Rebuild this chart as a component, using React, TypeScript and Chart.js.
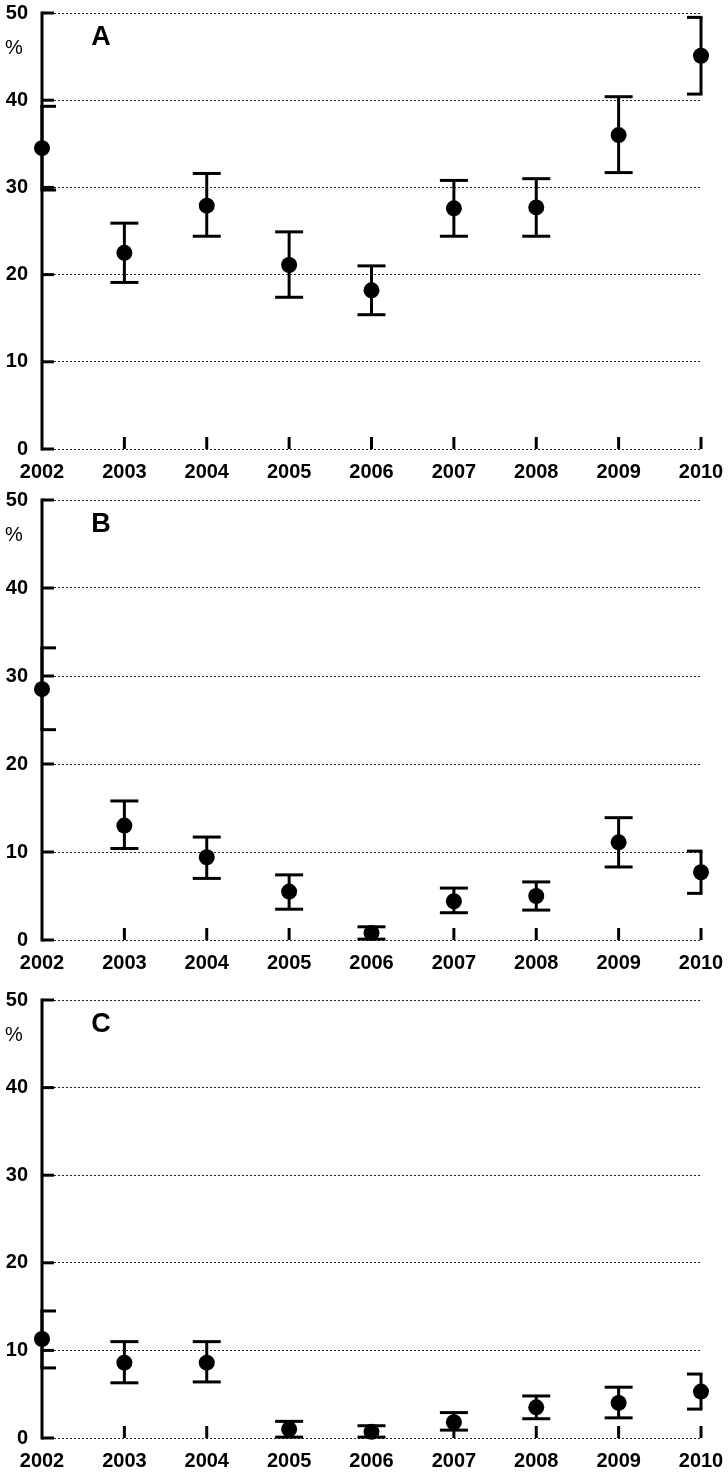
import React, { useEffect, useRef } from "react";
import { Chart, registerables } from "chart.js";

Chart.register(...registerables);

const years = [2002, 2003, 2004, 2005, 2006, 2007, 2008, 2009, 2010];
const yTicks = [0, 10, 20, 30, 40, 50];
const panelLabels = ["A", "B", "C"];
const unitLabel = "%";

const meanA = [34.5, 22.5, 27.9, 21.1, 18.2, 27.6, 27.7, 36.0, 45.1];
const lowA = [29.7, 19.1, 24.4, 17.4, 15.4, 24.4, 24.4, 31.7, 40.7];
const highA = [39.3, 25.9, 31.6, 24.9, 21.0, 30.8, 31.0, 40.4, 49.5];

const meanB = [28.5, 13.0, 9.4, 5.5, 0.8, 4.4, 5.0, 11.1, 7.7];
const lowB = [23.9, 10.4, 7.0, 3.5, 0.1, 3.1, 3.4, 8.3, 5.3];
const highB = [33.2, 15.8, 11.7, 7.4, 1.5, 5.9, 6.6, 13.9, 10.1];

const meanC = [11.3, 8.6, 8.6, 1.0, 0.7, 1.8, 3.5, 4.0, 5.3];
const lowC = [8.0, 6.3, 6.4, 0.1, 0.1, 0.9, 2.2, 2.3, 3.3];
const highC = [14.5, 11.0, 11.0, 1.9, 1.4, 2.9, 4.8, 5.8, 7.3];

const FONT = 'Arial, "Liberation Sans", Helvetica, sans-serif';

type PanelDef = {
  label: string;
  mean: number[];
  low: number[];
  high: number[];
  top: number;
  height: number;
  padTop: number;
  padBottom: number;
};

const panels: PanelDef[] = [
  { label: panelLabels[0], mean: meanA, low: lowA, high: highA, top: 0, height: 487, padTop: 13, padBottom: 8 },
  { label: panelLabels[1], mean: meanB, low: lowB, high: highB, top: 487, height: 487, padTop: 13, padBottom: 4 },
  { label: panelLabels[2], mean: meanC, low: lowC, high: highC, top: 987, height: 485, padTop: 13, padBottom: 4 },
];

function makePlugin(p: PanelDef) {
  return {
    id: "decor" + p.label,
    beforeDatasetsDraw(chart: any) {
      const ctx = chart.ctx as CanvasRenderingContext2D;
      const { left, top, bottom } = chart.chartArea;
      const xs = chart.scales.x;
      const ys = chart.scales.y;
      ctx.save();
      ctx.strokeStyle = "#000";
      ctx.fillStyle = "#000";
      ctx.lineWidth = 3;
      ctx.lineCap = "butt";
      // y axis line
      ctx.beginPath();
      ctx.moveTo(left, top - 1.5);
      ctx.lineTo(left, bottom + 1.5);
      ctx.stroke();
      // inward y ticks
      yTicks.forEach((v) => {
        const y = ys.getPixelForValue(v);
        ctx.beginPath();
        ctx.moveTo(left, y);
        ctx.lineTo(left + 12, y);
        ctx.stroke();
      });
      // upward x ticks
      years.forEach((yr, i) => {
        if (i === 0) return;
        const x = xs.getPixelForValue(yr);
        ctx.beginPath();
        ctx.moveTo(x, bottom);
        ctx.lineTo(x, bottom - 12);
        ctx.stroke();
      });
      // error bars
      const half = 14;
      const last = years.length - 1;
      years.forEach((yr, i) => {
        const x = xs.getPixelForValue(yr);
        const yl = ys.getPixelForValue(p.low[i]);
        const yh = ys.getPixelForValue(p.high[i]);
        ctx.beginPath();
        ctx.moveTo(x, yl);
        ctx.lineTo(x, yh);
        ctx.stroke();
        const x0 = i === 0 ? x - 1.5 : x - half;
        const x1 = i === last ? x + 1.5 : x + half;
        [yl, yh].forEach((yy) => {
          ctx.beginPath();
          ctx.moveTo(x0, yy);
          ctx.lineTo(x1, yy);
          ctx.stroke();
        });
      });
      // % label
      ctx.font = "20px " + FONT;
      ctx.textAlign = "center";
      ctx.textBaseline = "middle";
      ctx.fillText(unitLabel, 14, top + 35);
      // panel letter
      ctx.font = "bold 27px " + FONT;
      ctx.fillText(p.label, left + 59, top + 25);
      ctx.restore();
    },
  };
}

function Panel({ p }: { p: PanelDef }) {
  const ref = useRef<HTMLCanvasElement | null>(null);
  useEffect(() => {
    if (!ref.current) return;
    const chart = new Chart(ref.current, {
      type: "scatter",
      data: {
        datasets: [
          {
            data: years.map((yr, i) => ({ x: yr, y: p.mean[i] })),
            backgroundColor: "#000",
            borderColor: "#000",
            borderWidth: 0,
            pointRadius: 8,
            pointHoverRadius: 8,
            clip: false,
          } as any,
        ],
      },
      options: {
        animation: false,
        responsive: false,
        devicePixelRatio: 1,
        layout: { padding: { top: p.padTop, right: 27, bottom: p.padBottom, left: 0 } },
        plugins: { legend: { display: false }, tooltip: { enabled: false } },
        events: [],
        scales: {
          x: {
            type: "linear",
            min: 2002,
            max: 2010,
            afterBuildTicks: (s: any) => {
              s.ticks = years.map((v) => ({ value: v }));
            },
            afterFit: (s: any) => {
              s.height = 30;
              s.paddingLeft = 0;
              s.paddingRight = 0;
              s.paddingTop = 0;
              s.paddingBottom = 0;
            },
            grid: { display: false, drawTicks: false },
            border: { display: false },
            ticks: {
              autoSkip: false,
              maxRotation: 0,
              padding: 11,
              color: "#000",
              font: { family: FONT, size: 20, weight: "bold" },
              callback: (v: any) => String(v),
            },
          },
          y: {
            type: "linear",
            min: 0,
            max: 50,
            afterBuildTicks: (s: any) => {
              s.ticks = yTicks.map((v) => ({ value: v }));
            },
            afterFit: (s: any) => {
              s.width = 42;
              s.paddingLeft = 0;
              s.paddingRight = 0;
              s.paddingTop = 0;
              s.paddingBottom = 0;
            },
            grid: { display: true, drawTicks: false, color: "#222", lineWidth: 1 },
            border: { display: false, dash: [2, 2] },
            ticks: {
              padding: 14,
              color: "#000",
              font: { family: FONT, size: 20, weight: "bold" },
              callback: (v: any) => String(v),
            },
          },
        },
      } as any,
      plugins: [makePlugin(p)],
    });
    return () => chart.destroy();
  }, [p]);
  return (
    <div style={{ position: "absolute", left: 0, top: p.top, width: 728, height: p.height }}>
      <canvas ref={ref} width={728} height={p.height} style={{ display: "block", width: 728, height: p.height }} />
    </div>
  );
}

export default function App() {
  return (
    <div style={{ position: "absolute", left: 0, top: 0, width: 728, height: 1472, background: "#fff" }}>
      {panels.map((p) => (
        <Panel key={p.label} p={p} />
      ))}
    </div>
  );
}
